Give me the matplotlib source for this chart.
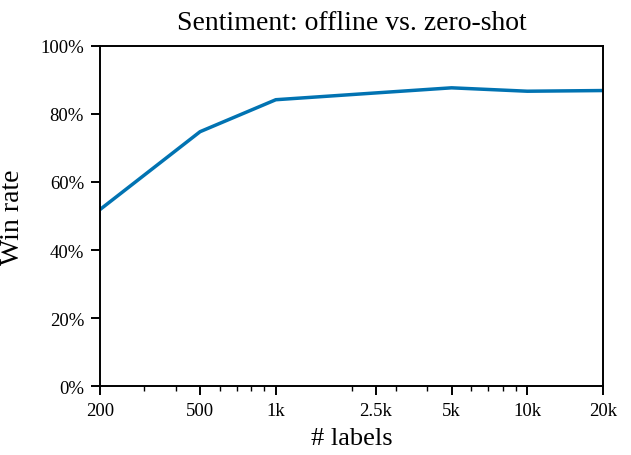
import matplotlib
matplotlib.use("Agg")
import matplotlib.pyplot as plt
from matplotlib.ticker import FixedLocator, FixedFormatter, LogLocator, NullFormatter, PercentFormatter

plt.rcParams['font.family'] = ['Liberation Serif', 'DejaVu Serif']
plt.rcParams['mathtext.fontset'] = 'stix'

labels_n = [200, 500, 1000, 2500, 5000, 10000, 20000]
tick_labels = ['200', '500', '1k', '2.5k', '5k', '10k', '20k']
win_rate = [51.9, 74.8, 84.2, 86.2, 87.7, 86.7, 86.9]

fig = plt.figure(figsize=(6.31, 4.56), dpi=100)
ax = fig.add_axes([100/631, 1-387/456, 503/631, 340/456])
ax.plot(labels_n, win_rate, color='#0173b2', lw=2.5)
ax.set_xscale('log')
ax.set_xlim(200, 20000)
ax.set_ylim(0, 100)
ax.xaxis.set_major_locator(FixedLocator(labels_n))
ax.xaxis.set_major_formatter(FixedFormatter(tick_labels))
ax.xaxis.set_minor_locator(LogLocator(base=10, subs=range(2, 10)))
ax.xaxis.set_minor_formatter(NullFormatter())
ax.set_yticks([0, 20, 40, 60, 80, 100])
ax.yaxis.set_major_formatter(PercentFormatter(decimals=0))
for s in ax.spines.values():
    s.set_linewidth(1.4)
ax.tick_params(axis='both', which='major', length=6.5, width=1.4, labelsize=13.5, pad=5)
ax.tick_params(axis='x', which='minor', length=3.3, width=1.0)
ax.set_title('Sentiment: offline vs. zero-shot', fontsize=20, pad=12)
ax.set_xlabel('# labels', fontsize=19, labelpad=6)
ax.set_ylabel('Win rate', fontsize=20, labelpad=11)
fig.savefig('out.png', dpi=100)
